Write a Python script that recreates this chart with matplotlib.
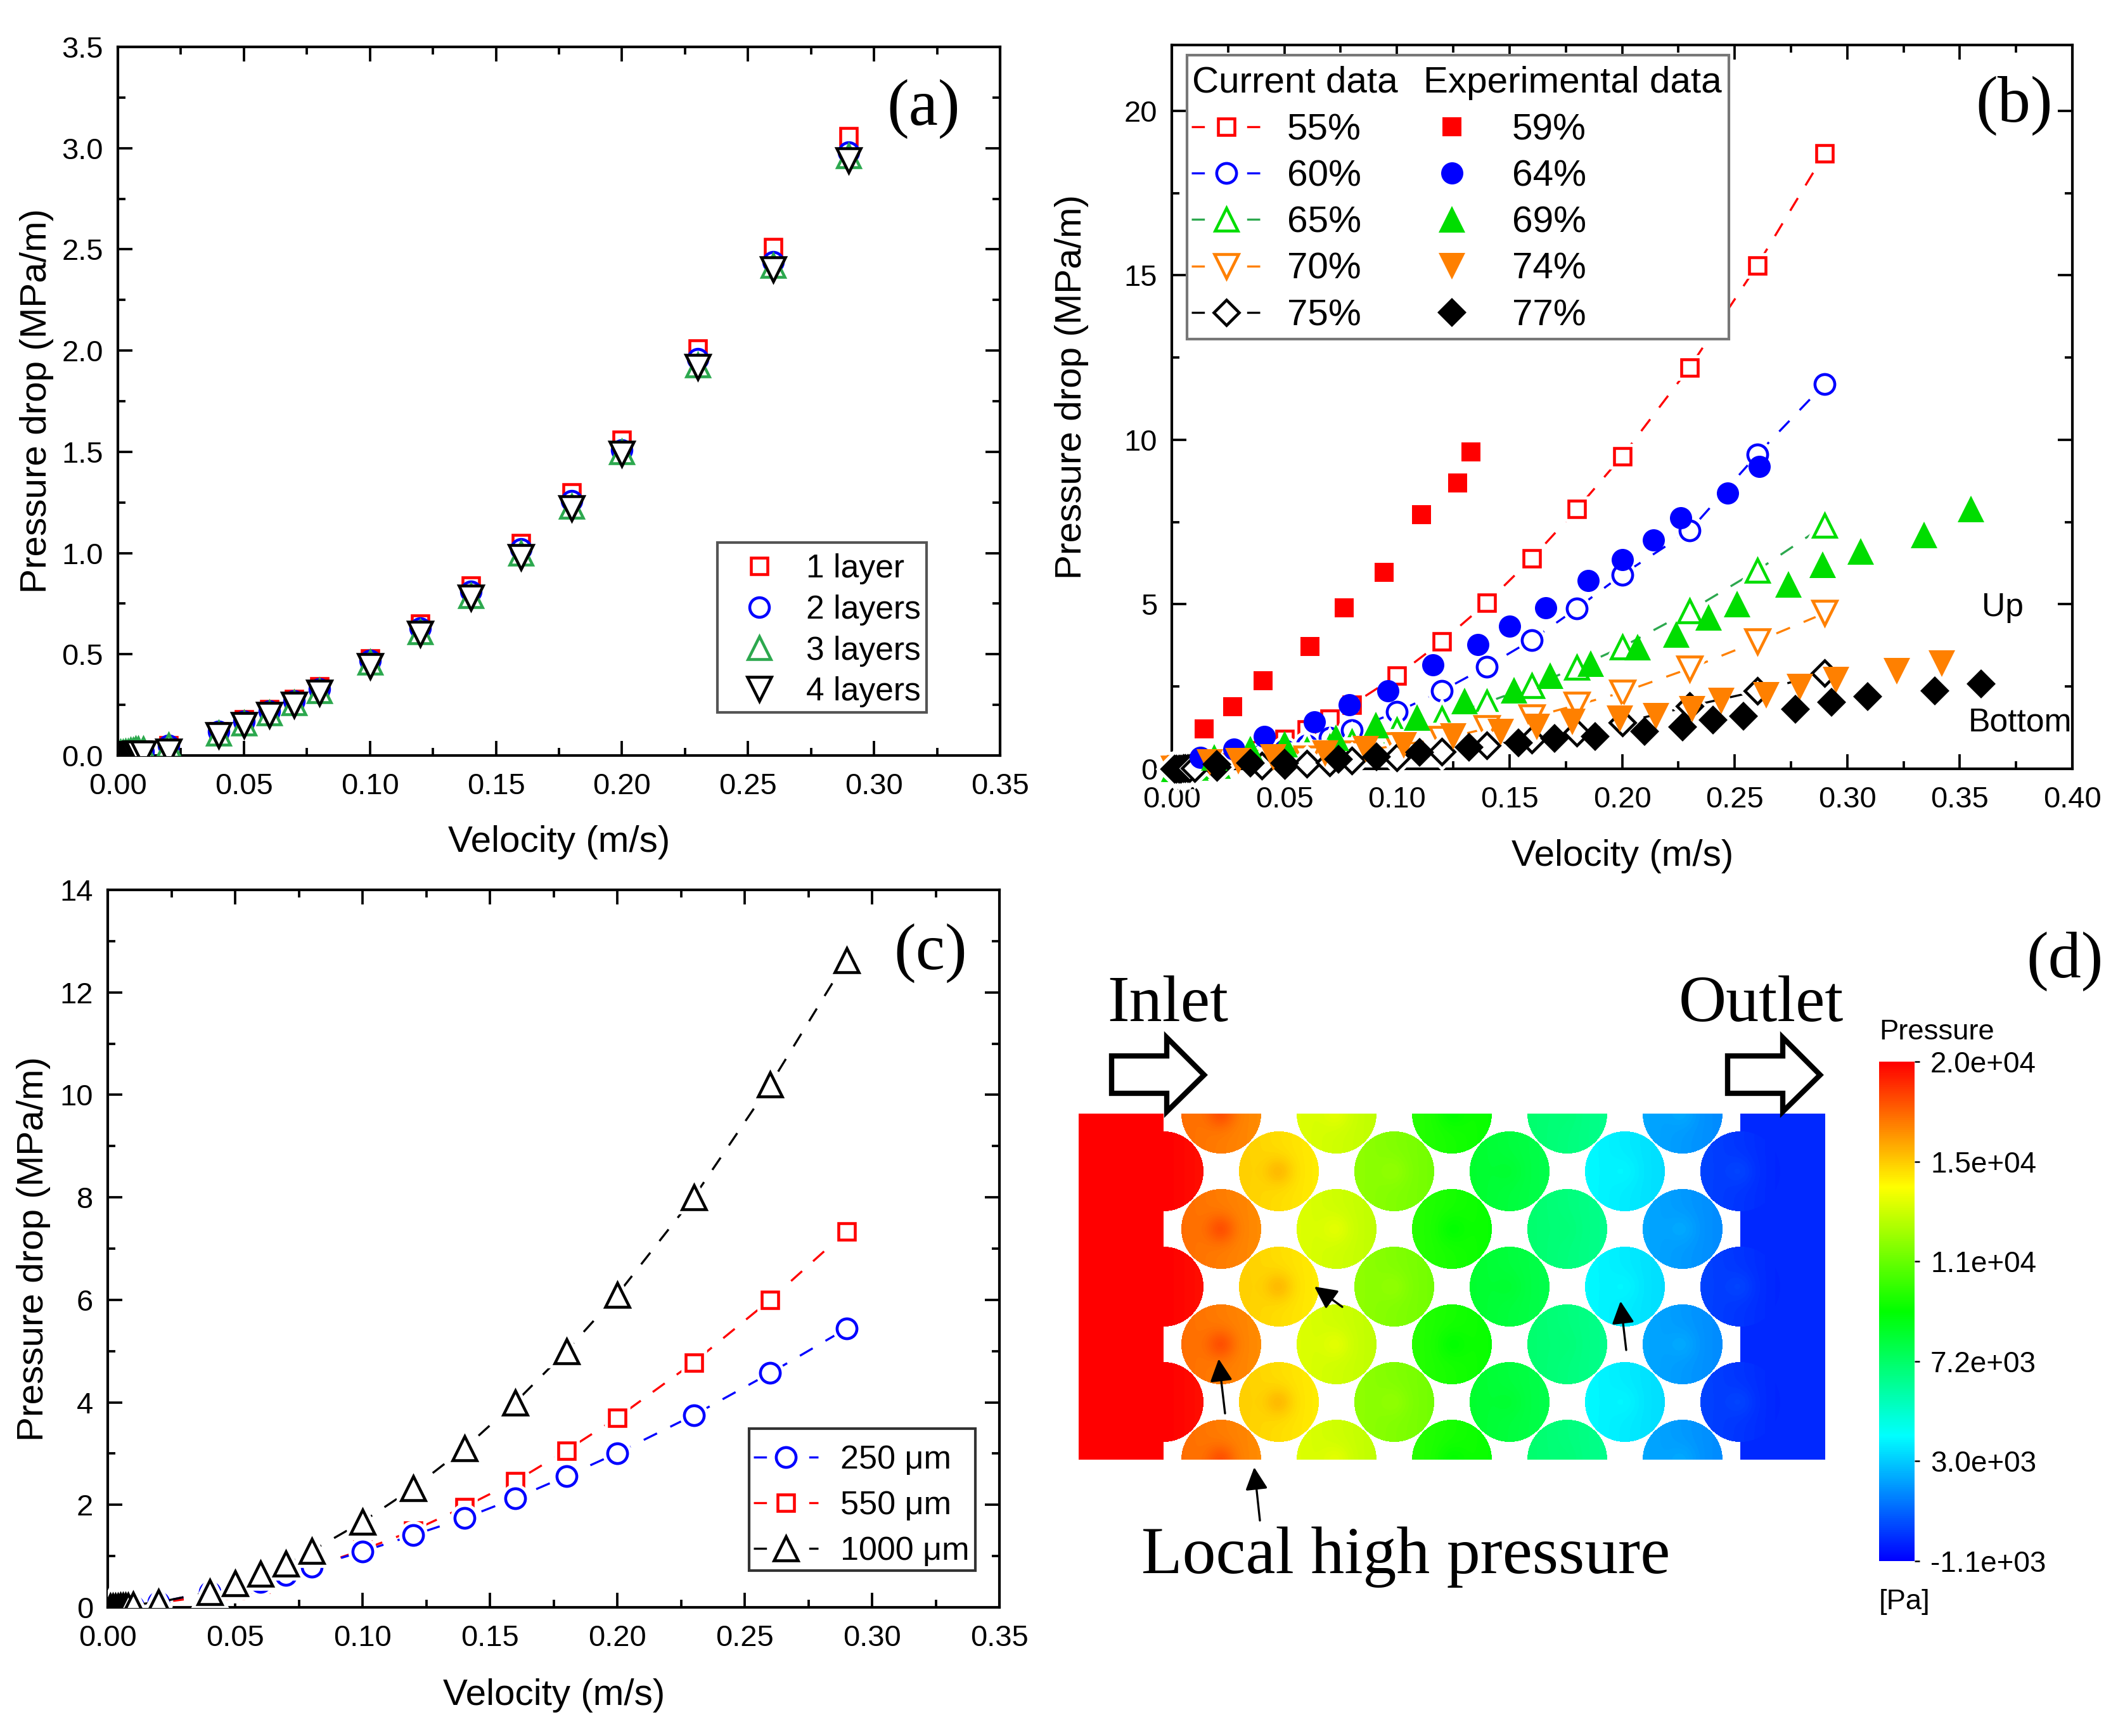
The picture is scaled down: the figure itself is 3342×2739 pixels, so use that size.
import numpy as np
import matplotlib
matplotlib.use("Agg")
import matplotlib.pyplot as plt
from matplotlib.colors import LinearSegmentedColormap, Normalize
from matplotlib.cm import ScalarMappable
from matplotlib.lines import Line2D
from matplotlib.patches import Polygon, Rectangle
from matplotlib.ticker import MultipleLocator, FormatStrFormatter

plt.rcParams["font.family"] = ["Liberation Sans", "DejaVu Sans"]

W, H, DPI = 3342, 2739, 300

velocity = [0.001, 0.002, 0.003, 0.004, 0.005, 0.006, 0.007, 0.008, 0.01, 0.02, 0.04, 0.05,
            0.06, 0.07, 0.08, 0.10, 0.12, 0.14, 0.16, 0.18, 0.20, 0.23, 0.26, 0.29]

# panel a, layers
layer1 = [0.002, 0.004, 0.006, 0.008, 0.01, 0.012, 0.014, 0.016, 0.02, 0.05, 0.12, 0.18,
          0.23, 0.28, 0.34, 0.48, 0.65, 0.84, 1.05, 1.30, 1.56, 2.01, 2.51, 3.06]
layer2 = [0.002, 0.004, 0.006, 0.008, 0.01, 0.012, 0.014, 0.016, 0.02, 0.05, 0.12, 0.17,
          0.22, 0.27, 0.33, 0.47, 0.63, 0.81, 1.02, 1.26, 1.51, 1.96, 2.44, 2.98]
layer3 = [0.015, 0.015, 0.02, 0.02, 0.025, 0.025, 0.03, 0.03, 0.03, 0.05, 0.11, 0.16,
          0.21, 0.26, 0.32, 0.46, 0.61, 0.79, 1.00, 1.23, 1.50, 1.93, 2.42, 2.96]
layer4 = [0.002, 0.003, 0.004, 0.005, 0.006, 0.007, 0.008, 0.009, 0.01, 0.02, 0.10, 0.15,
          0.20, 0.25, 0.31, 0.44, 0.60, 0.78, 0.98, 1.22, 1.49, 1.92, 2.40, 2.94]

# panel b, simulated porosities
cur55 = [0.01, 0.02, 0.03, 0.04, 0.05, 0.06, 0.07, 0.08, 0.10, 0.20, 0.55, 0.90,
         1.20, 1.52, 1.95, 2.83, 3.87, 5.05, 6.40, 7.90, 9.50, 12.2, 15.3, 18.7]
cur60 = [0.005, 0.01, 0.015, 0.02, 0.025, 0.03, 0.035, 0.04, 0.05, 0.12, 0.40, 0.55,
         0.72, 0.95, 1.18, 1.73, 2.37, 3.11, 3.92, 4.88, 5.90, 7.24, 9.55, 11.7]
cur65 = [0.004, 0.008, 0.012, 0.016, 0.02, 0.024, 0.028, 0.032, 0.04, 0.10, 0.32, 0.40,
         0.55, 0.65, 0.80, 1.18, 1.53, 2.02, 2.52, 3.08, 3.70, 4.80, 6.03, 7.40]
cur70 = [0.003, 0.006, 0.009, 0.012, 0.015, 0.018, 0.021, 0.024, 0.03, 0.07, 0.18, 0.25,
         0.30, 0.38, 0.47, 0.72, 0.90, 1.23, 1.57, 1.94, 2.32, 3.05, 3.87, 4.73]
cur75 = [0.002, 0.004, 0.006, 0.008, 0.01, 0.012, 0.014, 0.016, 0.02, 0.05, 0.10, 0.12,
         0.15, 0.20, 0.25, 0.35, 0.52, 0.72, 0.89, 1.10, 1.40, 1.90, 2.36, 2.90]

# panel b, experiments
exp59_x = [0.0144, 0.027, 0.0405, 0.0613, 0.0766, 0.0943, 0.111, 0.127, 0.133]
exp59_y = [1.21, 1.89, 2.68, 3.72, 4.90, 5.98, 7.73, 8.69, 9.63]
exp64_x = [0.0126, 0.0276, 0.041, 0.0634, 0.0787, 0.096, 0.116, 0.136, 0.15, 0.166, 0.185,
           0.20, 0.214, 0.226, 0.247, 0.261]
exp64_y = [0.35, 0.60, 0.99, 1.43, 1.94, 2.36, 3.16, 3.77, 4.34, 4.90, 5.72,
           6.36, 6.95, 7.63, 8.38, 9.19]
exp69_x = [0.019, 0.035, 0.05, 0.073, 0.0906, 0.109, 0.13, 0.152, 0.168, 0.186,
           0.207, 0.224, 0.2385, 0.251, 0.274, 0.289, 0.306, 0.334, 0.355]
exp69_y = [0.34, 0.60, 0.76, 0.95, 1.33, 1.56, 2.07, 2.39, 2.84, 3.19,
           3.70, 4.09, 4.60, 5.00, 5.60, 6.20, 6.60, 7.10, 7.90]
exp74_x = [0.017, 0.0295, 0.045, 0.068, 0.086, 0.103, 0.125, 0.146, 0.162, 0.178,
           0.199, 0.215, 0.231, 0.244, 0.264, 0.279, 0.295, 0.322, 0.342]
exp74_y = [0.20, 0.24, 0.34, 0.47, 0.60, 0.72, 0.98, 1.11, 1.27, 1.43,
           1.53, 1.60, 1.82, 2.07, 2.24, 2.49, 2.69, 2.96, 3.20]
exp77_x = [0.02, 0.035, 0.05, 0.074, 0.091, 0.11, 0.132, 0.154, 0.17, 0.188,
           0.21, 0.227, 0.2405, 0.254, 0.277, 0.293, 0.309, 0.339, 0.3595]
exp77_y = [0.13, 0.18, 0.18, 0.28, 0.37, 0.50, 0.66, 0.79, 0.92, 0.98,
           1.14, 1.28, 1.48, 1.60, 1.82, 2.02, 2.19, 2.37, 2.59]

# panel c, particle sizes
d250 = [0.01, 0.012, 0.014, 0.016, 0.018, 0.02, 0.022, 0.024, 0.03, 0.10, 0.30, 0.39,
        0.50, 0.63, 0.79, 1.09, 1.41, 1.74, 2.13, 2.56, 3.01, 3.75, 4.57, 5.44]
d550 = [0.008, 0.01, 0.012, 0.014, 0.016, 0.018, 0.02, 0.022, 0.04, 0.09, 0.22, 0.33,
        0.46, 0.60, 0.78, 1.12, 1.50, 1.96, 2.46, 3.06, 3.70, 4.78, 6.00, 7.34]
d1000 = [0.01, 0.012, 0.014, 0.016, 0.02, 0.022, 0.024, 0.026, 0.05, 0.10, 0.30, 0.47,
         0.65, 0.85, 1.10, 1.67, 2.33, 3.10, 4.00, 5.00, 6.10, 8.00, 10.2, 12.63]

# panel d, pressure read per particle column (Pa), inlet to outlet
column_p = [20000, 17400, 15400, 13700, 12100, 9900, 8200, 6900, 3800, 2100, 0]
column_hot = [0, 900, 700, 400, 300, -400, 200, 100, 200, 300, 300]
cbar_ticks = [-1100, 3120, 7340, 11560, 15780, 20000]
cbar_labels = ["-1.1e+03", "3.0e+03", "7.2e+03", "1.1e+04", "1.5e+04", "2.0e+04"]


def px_axes(left, top, right, bottom):
    return fig.add_axes([left / W, 1 - bottom / H, (right - left) / W, (bottom - top) / H])


def style_axes(ax, xmax, ymax, ymajor, yfmt):
    ax.set_xlim(0, xmax)
    ax.set_ylim(0, ymax)
    ax.xaxis.set_major_locator(MultipleLocator(0.05))
    ax.xaxis.set_minor_locator(MultipleLocator(0.025))
    ax.yaxis.set_major_locator(MultipleLocator(ymajor))
    ax.yaxis.set_minor_locator(MultipleLocator(ymajor / 2))
    ax.xaxis.set_major_formatter(FormatStrFormatter("%.2f"))
    ax.yaxis.set_major_formatter(FormatStrFormatter(yfmt))
    ax.tick_params(which="both", direction="in", top=True, right=True, width=0.9, labelsize=11.3)
    ax.tick_params(which="major", length=5.5)
    ax.tick_params(axis="x", which="major", pad=6.5)
    ax.tick_params(axis="y", which="major", pad=5.5)
    ax.tick_params(which="minor", length=2.8)
    for s in ax.spines.values():
        s.set_linewidth(1.0)


def labels_px(ax, box, xlab, ylab):
    left, top, right, bottom = box
    ax.set_xlabel("Velocity (m/s)", fontsize=14)
    ax.set_ylabel("Pressure drop (MPa/m)", fontsize=14)
    ax.xaxis.set_label_coords((xlab[0] - left) / (right - left), (bottom - xlab[1]) / (bottom - top))
    ax.yaxis.set_label_coords((ylab[0] - left) / (right - left), (bottom - ylab[1]) / (bottom - top))
    ax.xaxis.label.set_verticalalignment("center")
    ax.yaxis.label.set_verticalalignment("center")


def frame_px(ax, box, x0, y0, x1, y1, color):
    left, top, right, bottom = box
    ax.add_patch(Rectangle(((x0 - left) / (right - left), (bottom - y1) / (bottom - top)),
                           (x1 - x0) / (right - left), (y1 - y0) / (bottom - top),
                           transform=ax.transAxes, fc="white", ec=color, lw=1.0, zorder=8, clip_on=False))


def legend_px(ax, box, handles, labels, x, y, **kw):
    left, top, right, bottom = box
    leg = ax.legend(handles, labels, loc="upper left", frameon=False, borderaxespad=0, numpoints=1,
                    bbox_to_anchor=((x - left) / (right - left), (bottom - y) / (bottom - top)), **kw)
    leg.set_zorder(9)
    return leg


def letter(x, y, s):
    fig.text(x / W, 1 - y / H, s, fontsize=25, family="Liberation Serif", ha="center", va="center")


def open_series(ax, x, y, marker, ms, edge, line=None, clip=True, dash=(7, 7), z=3):
    # white halo under the marker leaves the small gap between line and symbol
    if line:
        ax.plot(x, y, color=line, lw=0.8, ls=(0, dash), zorder=z, clip_on=clip)
        ax.plot(x, y, ls="none", marker=marker, ms=ms, mfc="white", mec="white", mew=3.5, zorder=z, clip_on=clip)
    ax.plot(x, y, ls="none", marker=marker, ms=ms, mfc="white", mec=edge, mew=1.1, zorder=z, clip_on=clip)


fig = plt.figure(figsize=(W / DPI, H / DPI), dpi=DPI, facecolor="white")

# panel a
box_a = (186, 74, 1578, 1192)
ax = px_axes(*box_a)
style_axes(ax, 0.35, 3.5, 0.5, "%.1f")
open_series(ax, velocity, layer1, "s", 6.3, "#ff0000")
open_series(ax, velocity, layer2, "o", 7.4, "#0000ff")
open_series(ax, velocity, layer3, "^", 8.8, "#2ca84e")
open_series(ax, velocity, layer4, "v", 9.0, "black")
labels_px(ax, box_a, (882, 1329), (58, 633))
frame_px(ax, box_a, 1132, 856, 1462, 1124, "#555555")
handles_a = [Line2D([], [], ls="none", marker=m, ms=s, mfc="white", mec=c, mew=1.1)
             for m, s, c in [("s", 6.3, "#ff0000"), ("o", 7.4, "#0000ff"), ("^", 8.8, "#2ca84e"), ("v", 9.0, "black")]]
legend_px(ax, box_a, handles_a, ["1 layer", "2 layers", "3 layers", "4 layers"], 1132, 858, fontsize=12.4,
          handlelength=1.95, handletextpad=0.46, borderpad=0.3, labelspacing=0.3)
letter(1457, 172, "(a)")

# panel b
box_b = (1849, 71, 3270, 1213)
ax = px_axes(*box_b)
style_axes(ax, 0.40, 22, 5, "%d")
series_b = [(cur55, "s", 6.4, "#ff0000", "#ff0000"), (cur60, "o", 7.5, "#0000ff", "#0000ff"),
            (cur65, "^", 8.8, "#00dd00", "#2ca84e"), (cur70, "v", 9.0, "#ff8000", "#ff8000"),
            (cur75, "D", 6.8, "black", "black")]
for y, m, s, c, lc in series_b:
    open_series(ax, velocity, y, m, s, c, lc, clip=False)
exp_b = [(exp59_x, exp59_y, "s", 7.4, "#ff0000"), (exp64_x, exp64_y, "o", 8.4, "#0000ff"),
         (exp69_x, exp69_y, "^", 10.2, "#00dd00"), (exp74_x, exp74_y, "v", 10.2, "#ff8000"),
         (exp77_x, exp77_y, "D", 7.8, "black")]
for xx, yy, m, s, c in exp_b:
    ax.plot(xx, yy, ls="none", marker=m, ms=s, mfc=c, mec=c, mew=0, zorder=4, clip_on=False)
labels_px(ax, box_b, (2560, 1351), (1691, 611))
frame_px(ax, box_b, 1873, 87, 2728, 535, "#777777")
blank = Line2D([], [], ls="none")
handles_b = [blank]
for y, m, s, c, lc in series_b:
    handles_b.append(Line2D([], [], color=lc, lw=0.8, ls=(0, (6.2, 20)), marker=m, ms=s, mfc="white", mec=c, mew=1.1))
handles_b.append(blank)
for xx, yy, m, s, c in exp_b:
    handles_b.append(Line2D([], [], ls="none", marker=m, ms=s, mfc=c, mec=c, mew=0))
labels_b = [" ", "55%", "60%", "65%", "70%", "75%", " ", "59%", "64%", "69%", "74%", "77%"]
legend_px(ax, box_b, handles_b, labels_b, 1880, 105, ncol=2, fontsize=14, handlelength=1.9, handletextpad=0.68,
          columnspacing=1.5, borderpad=0, labelspacing=0.33)
ax.text((1881 - box_b[0]) / (box_b[2] - box_b[0]), (box_b[3] - 131) / (box_b[3] - box_b[1]), "Current data",
        transform=ax.transAxes, fontsize=14, va="center", zorder=10)
ax.text((2246 - box_b[0]) / (box_b[2] - box_b[0]), (box_b[3] - 131) / (box_b[3] - box_b[1]), "Experimental data",
        transform=ax.transAxes, fontsize=14, va="center", zorder=10)
fig.text(3160 / W, 1 - 958 / H, "Up", fontsize=12.4, ha="center", va="center")
fig.text(3187 / W, 1 - 1140 / H, "Bottom", fontsize=12.4, ha="center", va="center")
letter(3178, 167, "(b)")

# panel c
box_c = (170, 1404, 1577, 2536)
ax = px_axes(*box_c)
style_axes(ax, 0.35, 14, 2, "%d")
series_c = [(d550, "s", 6.4, "#ff0000"), (d250, "o", 7.5, "#0000ff"), (d1000, "^", 8.9, "black")]
for y, m, s, c in series_c:
    open_series(ax, velocity, y, m, s, c, c)
labels_px(ax, box_c, (874, 2675), (53, 1970))
frame_px(ax, box_c, 1182, 2254, 1539, 2478, "#333333")
handles_c = [Line2D([], [], color=c, lw=0.8, ls=(0, (6.2, 20)), marker=m, ms=s, mfc="white", mec=c, mew=1.1)
             for y, m, s, c in [series_c[1], series_c[0], series_c[2]]]
legend_px(ax, box_c, handles_c, ["250 \u03bcm", "550 \u03bcm", "1000 \u03bcm"], 1189, 2279, fontsize=12.5,
          handlelength=1.96, handletextpad=0.67, borderpad=0, labelspacing=0.44)
letter(1468, 1504, "(c)")

# panel d, contour on the packed bed
box_d = (1702, 1757, 2880, 2303)
ax = px_axes(*box_d)
ax.set_axis_off()
rainbow = LinearSegmentedColormap.from_list("rainbow5", ["#0000ff", "#00ffff", "#00ff00", "#ffff00", "#ff0000"])
norm = Normalize(cbar_ticks[0], cbar_ticks[-1])
xs, ys = np.meshgrid(np.arange(box_d[0], box_d[2]) + 0.5, np.arange(box_d[1], box_d[3]) + 0.5)
field = np.full(xs.shape, np.nan)
x_first, pitch, radius = 1836, 91, 63
field[xs < x_first] = column_p[0]
field[xs > x_first + 10 * pitch] = column_p[10] - 200
for i, (p, hot) in enumerate(zip(column_p, column_hot)):
    for j in range(7):
        if (i + j) % 2 == 0:
            continue
        cx, cy = x_first + i * pitch, box_d[1] + j * pitch
        d2 = (xs - cx) ** 2 + (ys - cy) ** 2
        inside = d2 <= radius ** 2
        spot = hot * np.exp(-d2 / (2 * 16.0 ** 2))
        field[inside] = (p + spot - 5.0 * (xs - cx))[inside]
rgba = rainbow(norm(np.nan_to_num(field)))
rgba[np.isnan(field)] = (1, 1, 1, 1)
ax.imshow(rgba, extent=(box_d[0], box_d[2], box_d[3], box_d[1]), aspect="auto", interpolation="nearest")

overlay = fig.add_axes([0, 0, 1, 1], facecolor="none")
overlay.set_xlim(0, W)
overlay.set_ylim(H, 0)
overlay.set_axis_off()
for dx in (0, 972):
    overlay.add_patch(Polygon([(1754 + dx, 1666), (1841 + dx, 1666), (1841 + dx, 1637), (1900 + dx, 1696),
                               (1841 + dx, 1754), (1841 + dx, 1725), (1754 + dx, 1725)],
                              closed=True, fc="white", ec="black", lw=2.0))
overlay.text(1843, 1586, "Inlet", fontsize=25, family="Liberation Serif", ha="center", va="center")
overlay.text(2779, 1586, "Outlet", fontsize=25, family="Liberation Serif", ha="center", va="center")
overlay.text(2218, 2457, "Local high pressure", fontsize=25.4, family="Liberation Serif", ha="center", va="center")
for tail, head in [((1933, 2230), (1923, 2144)), ((1988, 2399), (1979, 2315)),
                   ((2118, 2062), (2074, 2030)), ((2566, 2130), (2557, 2053))]:
    overlay.annotate("", xy=head, xytext=tail,
                     arrowprops=dict(arrowstyle="-|>", color="black", lw=0.8, mutation_scale=18,
                                     shrinkA=0, shrinkB=0))

cax = px_axes(2965, 1675, 3021, 2463)
cbar = fig.colorbar(ScalarMappable(norm=norm, cmap=rainbow), cax=cax)
cbar.set_ticks(cbar_ticks)
cbar.set_ticklabels(cbar_labels)
cbar.outline.set_visible(False)
cbar.ax.tick_params(length=2, width=0.6, pad=4, labelsize=11, direction="out")
fig.text(2965 / W, 1 - 1628 / H, "Pressure", fontsize=10.9, ha="left", va="center")
fig.text(2965 / W, 1 - 2527 / H, "[Pa]", fontsize=10.9, ha="left", va="center")
letter(3258, 1517, "(d)")

fig.savefig("out.png", dpi=DPI)
